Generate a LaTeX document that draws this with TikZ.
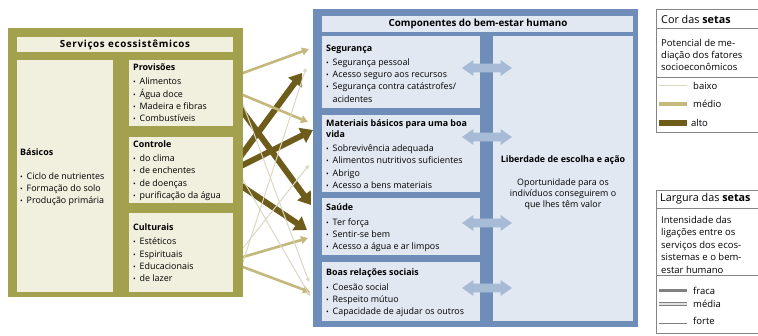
\documentclass[tikz,border=0pt]{standalone}
\usepackage{fontspec}
\usepackage{graphicx}
\setmainfont{Open Sans}
\usetikzlibrary{arrows.meta,shapes.arrows}
\definecolor{svframe}{HTML}{A3A04E}
\definecolor{svfill}{HTML}{F1EFDE}
\definecolor{blframe}{HTML}{6F8DB9}
\definecolor{blfill}{HTML}{E2E8F1}
\definecolor{darrow}{HTML}{6E5C1A}
\definecolor{marrow}{HTML}{C4B87C}
\definecolor{larrow}{HTML}{DCD7C3}
\definecolor{dblarrow}{HTML}{A8BBD6}
\definecolor{lgline}{HTML}{858585}
\newcommand\svbody{\fontsize{8.9}{12.3}\selectfont}
\newcommand\svtitle{\fontsize{9.8}{11}\selectfont\bfseries}
\newcommand\svstrut{\rule{0pt}{8pt}}
\newcommand\bitem[1]{\makebox[6.5pt][l]{\scalebox{0.8}{\textbullet}}#1}
\newcommand\bcont[1]{\makebox[6.5pt][l]{}#1}
\begin{document}
\begin{tikzpicture}[x=1pt,y=-1pt,
  obox/.style={fill=svfill, anchor=north west, inner sep=0pt, outer sep=0pt},
  bbox/.style={fill=blfill, anchor=north west, inner sep=0pt, outer sep=0pt},
  frm/.style={anchor=north west, inner sep=0pt, outer sep=0pt},
  txt/.style={anchor=north west, align=left, inner sep=0pt, font=\svbody},
  ttl/.style={inner sep=0pt, font=\svtitle},
  darr/.style={draw=darrow, line width=6pt, shorten <=-8pt, -{Triangle[length=12pt,width=16pt]}},
  marr/.style={draw=marrow, line width=2.6pt, shorten <=-8pt, -{Triangle[length=7pt,width=7.5pt]}},
  larr/.style={draw=larrow, line width=1pt, shorten <=-8pt, -{Triangle[length=4pt,width=4pt]}},
  dbl/.style={double arrow, fill=dblarrow, draw=none, inner sep=0pt, minimum height=50pt, minimum width=0pt, double arrow head extend=3.5pt, double arrow tip angle=70},
  lgbox/.style={draw=lgline, line width=0.6pt},
  lgtxt/.style={anchor=west, inner sep=0pt, font=\fontsize{9.5}{12}\selectfont},
  lgttl/.style={anchor=west, inner sep=0pt, font=\fontsize{10.8}{12}\selectfont},
]
\useasboundingbox (0,0) rectangle (758,336);
\fill[white] (0,0) rectangle (758,336);

% ---------- connector end points ----------
\coordinate (d1s) at (243,112); \coordinate (d1e) at (311,205);
\coordinate (d2s) at (243,153); \coordinate (d2e) at (302,73);
\coordinate (d3s) at (243,165); \coordinate (d3e) at (313,130);
\coordinate (d4s) at (243,187); \coordinate (d4e) at (307,230);
\coordinate (m1s) at (243,73);  \coordinate (m1e) at (309,49);
\coordinate (m2s) at (243,95);  \coordinate (m2e) at (308,122);
\coordinate (m3s) at (243,257); \coordinate (m3e) at (308,238);
\coordinate (m4s) at (243,267); \coordinate (m4e) at (310,292);
\coordinate (l1s) at (243,104); \coordinate (l1e) at (309,282);
\coordinate (l2s) at (243,180); \coordinate (l2e) at (310,296);
\coordinate (l3s) at (243,262); \coordinate (l3e) at (306,68);
\coordinate (l4s) at (243,248); \coordinate (l4e) at (309,165);

% ---------- arrows ----------
\draw[darr] (d1s) -- (d1e);
\draw[darr] (d2s) -- (d2e);
\draw[darr] (d3s) -- (d3e);
\draw[darr] (d4s) -- (d4e);
\draw[marr] (m1s) -- (m1e);
\draw[marr] (m2s) -- (m2e);
\draw[marr] (m3s) -- (m3e);
\draw[marr] (m4s) -- (m4e);
\draw[larr] (l1s) -- (l1e);
\draw[larr] (l2s) -- (l2e);
\draw[larr] (l3s) -- (l3e);
\draw[larr] (l4s) -- (l4e);

% ---------- left panel ----------
\node[frm, fill=svframe, minimum width=235pt, minimum height=269pt] (lframe) at (8,28) {};
\node[obox, minimum width=216pt, minimum height=15pt] (ltitle) at (17,37) {};
\node[ttl] (ltitletxt) at (125,44.5) {\addfontfeature{LetterSpace=7}Serviços ecossistêmicos};
\node[obox, minimum width=96pt, minimum height=232pt] (bas) at (17,60) {};
\node[obox, minimum width=104pt, minimum height=66pt] (prov) at (129,60) {};
\node[obox, minimum width=104pt, minimum height=66pt] (ctrl) at (129,137) {};
\node[obox, minimum width=104pt, minimum height=79pt] (cult) at (129,213) {};

\node[txt] (bastxt) at (20,147) {\svstrut\textbf{Básicos}\\[11.7pt]
 \bitem{Ciclo de nutrientes}\\ \bitem{Formação do solo}\\ \bitem{Produção primária}};
\node[txt] (provtxt) at (133,62) {\svstrut\textbf{Provisões}\\[2.5pt]
 \bitem{Alimentos}\\ \bitem{Água doce}\\ \bitem{Madeira e fibras}\\ \bitem{Combustíveis}};
\node[txt] (ctrltxt) at (133,139) {\svstrut\textbf{Controle}\\[2pt]
 \bitem{do clima}\\ \bitem{de enchentes}\\ \bitem{de doenças}\\ \bitem{purificação da água}};
\node[txt] (culttxt) at (133,222) {\svstrut\textbf{Culturais}\\[2.5pt]
 \bitem{Estéticos}\\ \bitem{Espirituais}\\ \bitem{Educacionais}\\ \bitem{de lazer}};

% ---------- middle panel ----------
\node[frm, fill=blframe, minimum width=325pt, minimum height=318pt] (mframe) at (313,9) {};
\node[bbox, minimum width=311pt, minimum height=16pt] (mtitle) at (322,16) {};
\node[ttl] (mtitletxt) at (478,24) {Componentes do bem-estar humano};
\node[bbox, minimum width=158pt, minimum height=72pt] (seg) at (322,36) {};
\node[bbox, minimum width=158pt, minimum height=77pt] (mat) at (322,115) {};
\node[bbox, minimum width=158pt, minimum height=57pt] (sau) at (322,198) {};
\node[bbox, minimum width=158pt, minimum height=59pt] (boas) at (322,262) {};
\node[bbox, minimum width=140pt, minimum height=285pt] (lib) at (493,36) {};

\node[txt] (segtxt) at (326,43) {\svstrut\textbf{Segurança}\\[1.7pt]
 \bitem{Segurança pessoal}\\ \bitem{Acesso seguro aos recursos}\\
 \bitem{Segurança contra catástrofes/}\\ \bcont{acidentes}};
\node[txt] (mattxt) at (326,118) {\svstrut\textbf{Materiais básicos para uma boa}\\[-1pt]
 \textbf{vida}\\[1.7pt]
 \bitem{Sobrevivência adequada}\\ \bitem{Alimentos nutritivos suficientes}\\
 \bitem{Abrigo}\\ \bitem{Acesso a bens materiais}};
\node[txt] (sautxt) at (326,202) {\svstrut\textbf{Saúde}\\[2.7pt]
 \bitem{Ter força}\\ \bitem{Sentir-se bem}\\ \bitem{Acesso a água e ar limpos}};
\node[txt] (boastxt) at (326,267) {\svstrut\textbf{Boas relações sociais}\\[2.7pt]
 \bitem{Coesão social}\\ \bitem{Respeito mútuo}\\ \bitem{Capacidade de ajudar os outros}};

\node[inner sep=0pt, font=\svbody\bfseries] (libtitle) at (563,160) {Liberdade de escolha e ação};
\node[anchor=north, align=center, inner sep=0pt, font=\fontsize{8.9}{11}\selectfont] (libtxt) at (563,177)
 {\svstrut Oportunidade para os\\ indivíduos conseguirem o\\ que lhes têm valor};

\node[dbl] (a1) at (487,68) {\rule{0pt}{8.5pt}};
\node[dbl] (a2) at (487,137) {\rule{0pt}{8.5pt}};
\node[dbl] (a3) at (487,223) {\rule{0pt}{8.5pt}};
\node[dbl] (a4) at (487,288) {\rule{0pt}{8.5pt}};

% ---------- legend: colour ----------
\draw[lgbox] (757.5,9) -- (656,9) -- (656,132) -- (757.5,132);
\draw[lgbox] (656,28) -- (757.5,28);
\draw[lgbox] (656,77) -- (757.5,77);
\node[lgttl] (cortit) at (661,19) {Cor das \textbf{setas}};
\node[txt, font=\fontsize{9.5}{12}\selectfont] (cordesc) at (661,38) {\svstrut Potencial de me-\\ diação dos fatores\\ socioeconômicos};
\coordinate (cb1) at (659,86);  \coordinate (cb2) at (687,86);
\coordinate (cm1) at (659,104); \coordinate (cm2) at (687,104);
\coordinate (ca1) at (659,123); \coordinate (ca2) at (687,123);
\draw[draw=larrow, line width=1pt] (cb1) -- (cb2);
\draw[draw=marrow, line width=4pt] (cm1) -- (cm2);
\draw[draw=darrow, line width=6pt] (ca1) -- (ca2);
\node[lgtxt] (baixo) at (693,86) {baixo};
\node[lgtxt] (medio) at (693,104) {médio};
\node[lgtxt] (alto) at (691,123) {alto};

% ---------- legend: width ----------
\draw[lgbox] (757.5,190) -- (656,190) -- (656,333) -- (757.5,333);
\draw[lgbox] (656,208) -- (757.5,208);
\draw[lgbox] (656,275) -- (757.5,275);
\node[lgttl] (largtit) at (660,199) {Largura das \textbf{setas}};
\node[txt, font=\fontsize{9.5}{12.5}\selectfont] (largdesc) at (661,215) {\svstrut Intensidade das\\ ligações entre os\\ serviços dos ecos-\\ sistemas e o bem-\\ estar humano};
\coordinate (wf1) at (659,291); \coordinate (wf2) at (687,291);
\coordinate (wm1) at (659,304); \coordinate (wm2) at (687,304);
\coordinate (wo1) at (659,321); \coordinate (wo2) at (687,321);
\draw[draw=gray, line width=3pt] (wf1) -- (wf2);
\draw[draw=gray, double=gray!25, double distance=2pt, line width=0.9pt] (wm1) -- (wm2);
\draw[draw=gray, double=white, double distance=5pt, line width=0.9pt] (wo1) -- (wo2);
\node[lgtxt] (fraca) at (693,291) {fraca};
\node[lgtxt] (media) at (693,304) {média};
\node[lgtxt] (forte) at (693,321) {forte};
\end{tikzpicture}
\end{document}
